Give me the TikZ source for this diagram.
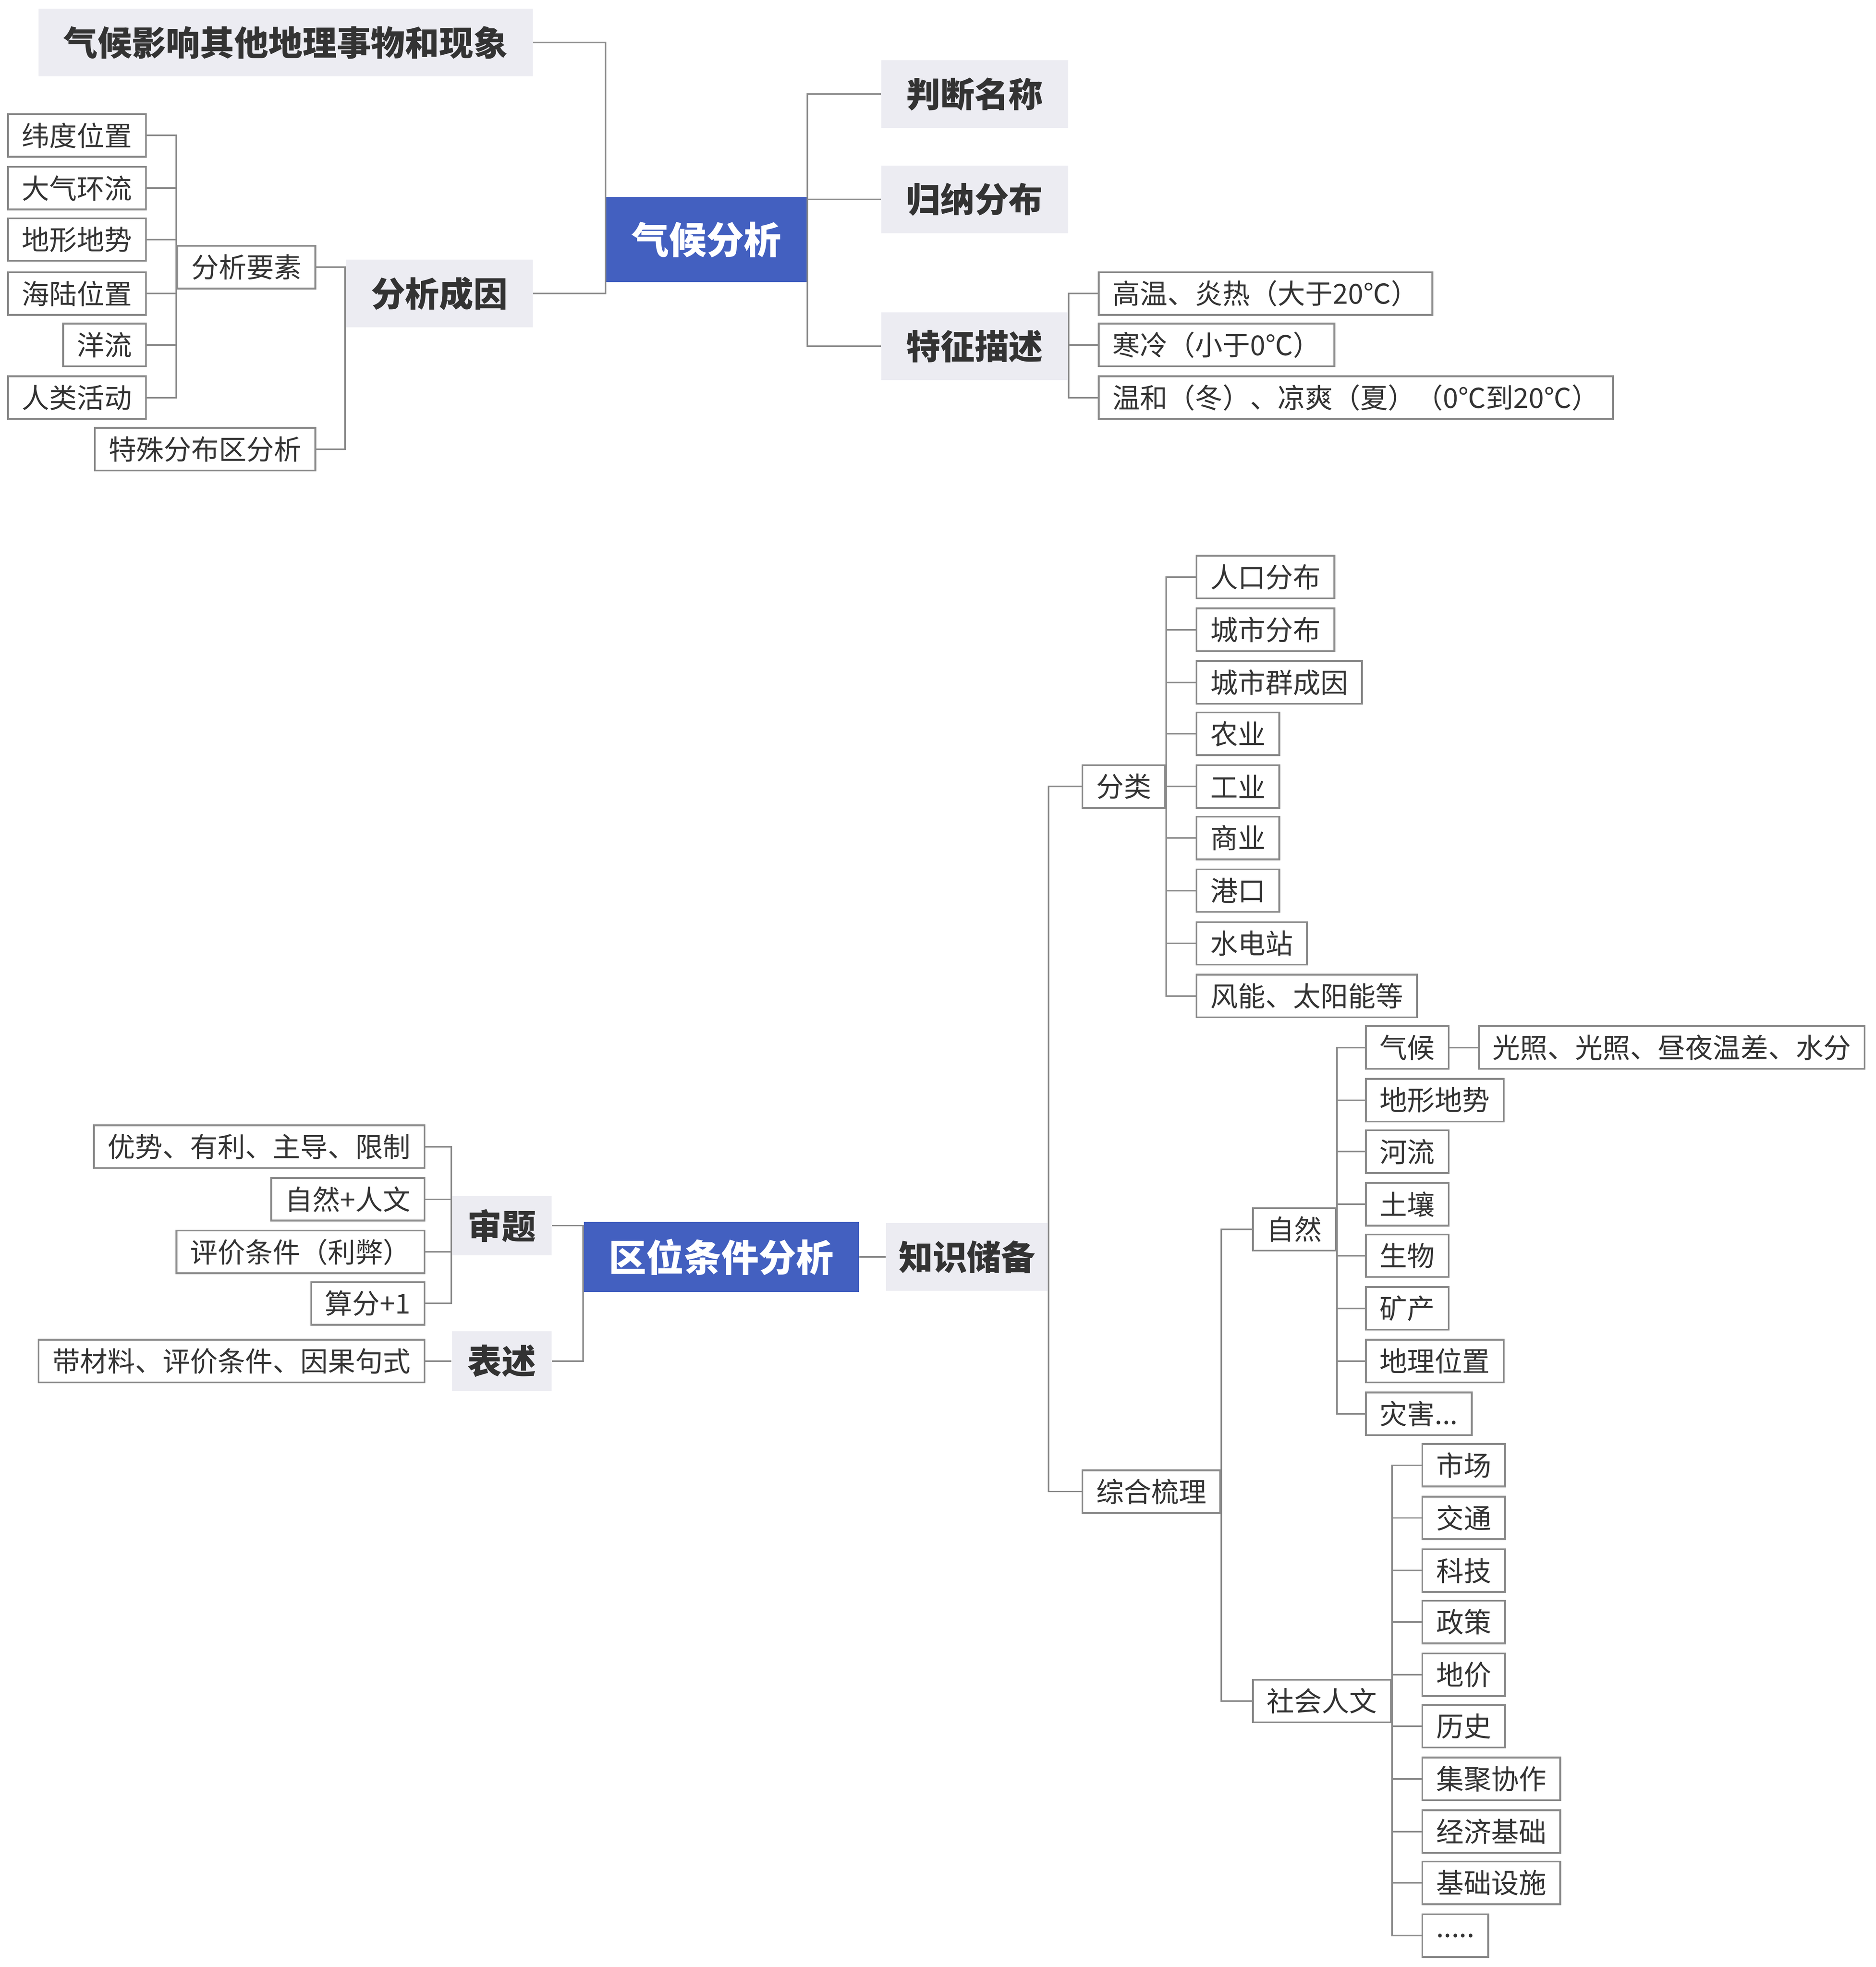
\documentclass[tikz,border=0pt]{standalone}
\usepackage{fontspec}
\setmainfont{Noto Sans CJK SC}
\definecolor{rootblue}{HTML}{4360C0}
\definecolor{topicgray}{HTML}{ECECF2}
\definecolor{linegray}{HTML}{8A8A8A}
\definecolor{textdark}{HTML}{333333}
\newcommand\zaihaitxt{灾害...}
\newcommand\moretxt{.....}
\tikzset{
  leaf/.style={draw=linegray, fill=white, text=textdark, font=\fontsize{12.5}{14}\selectfont,
    minimum height=0.68cm, inner xsep=0.22cm, inner ysep=0pt, line width=0.8pt},
  topic/.style={fill=topicgray, text=textdark, font=\bfseries\fontsize{15.5}{17}\selectfont,
    minimum height=1.08cm, inner xsep=0.4cm, inner ysep=0pt},
  root/.style={fill=rootblue, text=white, font=\bfseries\fontsize{17}{19}\selectfont,
    inner xsep=0.4cm, inner ysep=0pt},
  link/.style={draw=linegray, line width=0.7pt}
}
\begin{document}
\begin{tikzpicture}[x=0.02cm,y=-0.02cm]
	\useasboundingbox (0,0) rectangle (1495,1568);
	% climate part
	\node[root, minimum height=1.36cm, anchor=west] (qhfx) at (483,191) {气候分析};
	\node[topic, anchor=east] (qhyx) at (425,34) {气候影响其他地理事物和现象};
	\node[topic, anchor=east] (fxcy) at (425,234) {分析成因};
	\node[leaf, anchor=east] (fxys) at (252,213) {分析要素};
	\node[leaf, anchor=east] (tsfb) at (252,358) {特殊分布区分析};
	\foreach \t/\y [count=\i] in {纬度位置/108,大气环流/150,地形地势/191,海陆位置/234,洋流/275,人类活动/317}{
		\node[leaf, anchor=east] (ys\i) at (117,\y) {\t};
		\draw[link] (fxys.west) -- ++(-0.24,0) |- (ys\i.east);
	}
	\foreach \c in {qhyx,fxcy} \draw[link] (qhfx.west) -- ++(-0.42,0) |- (\c.east);
	\foreach \c in {fxys,tsfb} \draw[link] (fxcy.west) -- ++(-0.22,0) |- (\c.east);
	\foreach \t/\y [count=\i] in {判断名称/75,归纳分布/159,特征描述/276}{
		\node[topic, anchor=west] (qr\i) at (702,\y) {\t};
		\draw[link] (qhfx.east) -- ++(0.42,0) |- (qr\i.west);
	}
	\foreach \t/\y [count=\i] in {高温、炎热（大于20℃）/234,寒冷（小于0℃）/275,温和（冬）、凉爽（夏）（0℃到20℃）/317}{
		\node[leaf, anchor=west] (tz\i) at (875,\y) {\t};
		\draw[link] (qr3.east) -- ++(0.2,0) |- (tz\i.west);
	}
	% location part
	\node[root, minimum height=1.12cm, anchor=west] (qwtj) at (465,1002) {区位条件分析};
	\node[topic, anchor=west, inner xsep=0.2cm] (zscb) at (706,1002) {知识储备};
	\node[topic, anchor=east, inner xsep=0.25cm, minimum height=0.95cm] (shenti) at (440,977) {审题};
	\node[topic, anchor=east, inner xsep=0.25cm, minimum height=0.95cm] (biaoshu) at (440,1085) {表述};
	\draw[link] (qwtj.east) -- (zscb.west);
	\foreach \c in {shenti,biaoshu} \draw[link] (qwtj.west) -- ++(-0.2,0) |- (\c.east);
	\foreach \t/\y [count=\i] in {优势、有利、主导、限制/914,自然+人文/956,评价条件（利弊）/998,算分+1/1039}{
		\node[leaf, anchor=east] (st\i) at (339,\y) {\t};
		\draw[link] (shenti.west) -- ++(-0.24,0) |- (st\i.east);
	}
	\node[leaf, anchor=east] (bs1) at (339,1085) {带材料、评价条件、因果句式};
	\draw[link] (biaoshu.west) -- (bs1.east);
	\node[leaf, anchor=west] (fenlei) at (862,627) {分类};
	\node[leaf, anchor=west] (zhsl) at (862,1189) {综合梳理};
	\foreach \c in {fenlei,zhsl} \draw[link] (zscb.east) -- ++(0.22,0) |- (\c.west);
	\foreach \t/\y [count=\i] in {人口分布/460,城市分布/502,城市群成因/544,农业/585,工业/627,商业/668,港口/710,水电站/752,风能、太阳能等/794}{
		\node[leaf, anchor=west] (fl\i) at (953,\y) {\t};
		\draw[link] (fenlei.east) -- ++(0.24,0) |- (fl\i.west);
	}
	\node[leaf, anchor=west] (ziran) at (998,980) {自然};
	\node[leaf, anchor=west] (shrw) at (998,1356) {社会人文};
	\foreach \c in {ziran,shrw} \draw[link] (zhsl.east) -- ++(0.26,0) |- (\c.west);
	\foreach \t/\y [count=\i] in {气候/835,地形地势/877,河流/918,土壤/960,生物/1001,矿产/1043,地理位置/1085,\zaihaitxt/1127}{
		\node[leaf, anchor=west] (zr\i) at (1088,\y) {\t};
		\draw[link] (ziran.east) -- ++(0.26,0) |- (zr\i.west);
	}
	\node[leaf, anchor=west] (gz) at (1178,835) {光照、光照、昼夜温差、水分};
	\draw[link] (zr1.east) -- (gz.west);
	\foreach \t/\y [count=\i] in {市场/1168,交通/1210,科技/1252,政策/1293,地价/1335,历史/1376,集聚协作/1418,经济基础/1460,基础设施/1501,\moretxt/1543}{
		\node[leaf, anchor=west] (rw\i) at (1133,\y) {\t};
		\draw[link] (shrw.east) -- ++(0.26,0) |- (rw\i.west);
	}
\end{tikzpicture}
\end{document}
